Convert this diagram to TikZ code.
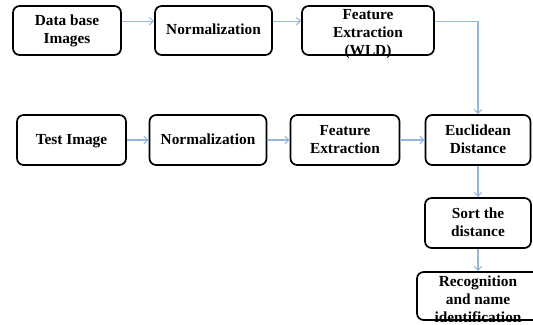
\documentclass[tikz,border=0pt]{standalone}
\usepackage{fontspec}
\setmainfont{Liberation Serif}
\usepackage{tikz}
\usetikzlibrary{arrows.meta}
\definecolor{linkblue}{RGB}{149,182,223}
\newcommand{\boxtext}[2][0pt]{\smash{\raisebox{\dimexpr#1-3.6pt\relax}{\begin{tabular}{@{}c@{}}#2\end{tabular}}}}

\begin{document}
\begin{tikzpicture}[x=0.75pt,y=-0.75pt,
    box/.style={draw, line width=1.3pt, rounded corners=5pt, inner sep=0pt,
      font=\fontsize{11.5}{13.5}\selectfont\bfseries},
    boxsize/.style 2 args={minimum width=#1*0.75pt, minimum height=#2*0.75pt},
    link/.style={draw=linkblue, line width=0.8pt, -{Straight Barb[length=3pt,width=5.5pt]}}]
    \clip (0,0) rectangle (533,325);
    \useasboundingbox (0,0) rectangle (533,325);

    % Nodes (database row)
    \node[box, boxsize={108}{49}] (db-images) at (67,30.5) {\boxtext{Data base\\Images}};
    \node[box, boxsize={117}{49}] (norm-db) at (213.5,30.5) {\boxtext{Normalization}};
    \node[box, boxsize={132}{49}] (feat-db) at (368,30.5) {\boxtext[-2pt]{Feature\\Extraction\\(WLD)}};

    % Nodes (test row)
    \node[box, boxsize={109}{50}] (test-image) at (71.5,140) {\boxtext{Test Image}};
    \node[box, boxsize={117}{50}] (norm-test) at (208,140) {\boxtext{Normalization}};
    \node[box, boxsize={109}{50}] (feat-test) at (345,140) {\boxtext{Feature\\Extraction}};
    \node[box, boxsize={105}{50}] (eucl-dist) at (478,140) {\boxtext{Euclidean\\Distance}};

    % Nodes (right column)
    \node[box, boxsize={106}{50}] (sort-dist) at (478,223) {\boxtext{Sort the\\distance}};
    \node[box, boxsize={122}{48}] (recog) at (478,296) {\boxtext[-3pt]{Recognition\\and name\\identification}};

    % Lines
    \draw[link] ([yshift=7pt]db-images.east) -- ([yshift=7pt]norm-db.west);
    \draw[link] ([yshift=7pt]norm-db.east) -- ([yshift=7pt]feat-db.west);
    \draw[link] ([yshift=7pt]feat-db.east) -| (eucl-dist.north);

    \draw[link] (test-image) -- (norm-test);
    \draw[link] (norm-test) -- (feat-test);
    \draw[link] (feat-test) -- (eucl-dist);

    \draw[link] (eucl-dist) -- (sort-dist);
    \draw[link] (sort-dist) -- (recog);

\end{tikzpicture}
\end{document}
